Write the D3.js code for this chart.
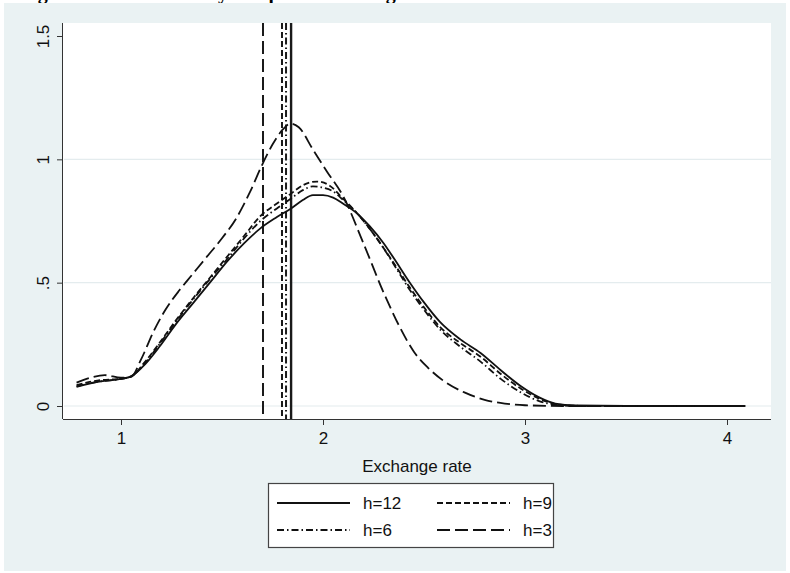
<!DOCTYPE html>
<html><head><meta charset="utf-8">
<script src="https://cdn.jsdelivr.net/npm/d3@7"></script>
<style>body{margin:0;background:#fff}svg{display:block}</style>
</head><body>
<svg id="c" width="790" height="573"></svg>
<script>
const seriesNames = ["h=12", "h=9", "h=6", "h=3"];
const xTicks = [1, 2, 3, 4];
const yTicks = [0, 0.5, 1, 1.5];
const yTickLabels = ["0", ".5", "1", "1.5"];
const meanLines = [1.842, 1.797, 1.817, 1.703]; // h=12, h=9, h=6, h=3

const h12 = [[0.78,0.078],[0.9,0.10],[1.0,0.11],[1.05,0.12],[1.12,0.17],[1.19,0.24],[1.27,0.33],[1.36,0.42],[1.44,0.50],[1.53,0.59],[1.61,0.66],[1.69,0.72],[1.77,0.765],[1.84,0.80],[1.9,0.835],[1.95,0.855],[2.0,0.855],[2.05,0.845],[2.1,0.82],[2.17,0.78],[2.23,0.73],[2.3,0.66],[2.35,0.60],[2.43,0.50],[2.5,0.42],[2.58,0.34],[2.68,0.27],[2.78,0.215],[2.88,0.145],[2.98,0.08],[3.07,0.035],[3.15,0.01],[3.25,0.002],[3.5,0],[4.09,0]];
const h9 = [[0.78,0.085],[0.9,0.105],[1.0,0.11],[1.05,0.12],[1.12,0.18],[1.19,0.255],[1.27,0.345],[1.36,0.44],[1.44,0.52],[1.53,0.61],[1.61,0.69],[1.69,0.77],[1.77,0.82],[1.84,0.86],[1.9,0.895],[1.97,0.91],[2.03,0.895],[2.1,0.84],[2.17,0.78],[2.23,0.72],[2.3,0.64],[2.35,0.58],[2.43,0.48],[2.5,0.40],[2.58,0.32],[2.68,0.255],[2.78,0.20],[2.88,0.13],[2.98,0.07],[3.07,0.03],[3.15,0.008],[3.25,0.001],[3.5,0],[4.09,0]];
const h6 = [[0.78,0.08],[0.9,0.10],[1.0,0.11],[1.05,0.12],[1.12,0.175],[1.19,0.25],[1.27,0.34],[1.36,0.435],[1.44,0.515],[1.53,0.60],[1.61,0.68],[1.69,0.75],[1.77,0.80],[1.84,0.84],[1.9,0.875],[1.95,0.89],[2.0,0.885],[2.05,0.87],[2.1,0.835],[2.17,0.78],[2.23,0.72],[2.3,0.64],[2.35,0.575],[2.43,0.47],[2.5,0.39],[2.58,0.31],[2.68,0.24],[2.78,0.18],[2.88,0.11],[2.98,0.055],[3.07,0.02],[3.15,0.005],[3.25,0],[3.5,0],[4.09,0]];
const h3 = [[0.78,0.095],[0.85,0.115],[0.92,0.125],[1.0,0.115],[1.05,0.118],[1.1,0.19],[1.16,0.30],[1.22,0.39],[1.29,0.47],[1.35,0.53],[1.42,0.60],[1.5,0.68],[1.57,0.76],[1.64,0.87],[1.70,0.98],[1.75,1.06],[1.80,1.12],[1.84,1.145],[1.88,1.13],[1.95,1.04],[2.02,0.95],[2.1,0.85],[2.2,0.66],[2.3,0.46],[2.38,0.32],[2.45,0.22],[2.52,0.155],[2.6,0.10],[2.7,0.055],[2.8,0.025],[2.9,0.01],[3.0,0.003],[3.2,0],[4.09,0]];

const seriesData = [h12, h9, h6, h3];
const dashes = [null, "6,3", "7,3,1.5,3", "13,5"];

const svg = d3.select("#c");
// title (cut off at top in the original)
svg.append("text").attr("x", 20).attr("y", -1)
  .attr("font-family", "Liberation Serif, Times New Roman, serif").attr("font-weight", "bold")
  .attr("font-size", 20).attr("fill", "#000")
  .text("Figure 5: Kernel density comparison among horizons");

svg.append("rect").attr("x", 4).attr("y", 3).attr("width", 782).attr("height", 568).attr("fill", "#eaf2f3");

const L = 63, R = 771, T = 23, B = 419;
svg.append("rect").attr("x", L).attr("y", T).attr("width", R - L).attr("height", B - T).attr("fill", "#fff");

const x = d3.scaleLinear().domain([1, 4]).range([121, 727]);
const y = d3.scaleLinear().domain([0, 1.5]).range([406, 36]);

// gridlines
svg.append("g").selectAll("line").data([0, 0.5, 1]).join("line")
  .attr("x1", L + 1).attr("x2", R).attr("y1", d => y(d)).attr("y2", d => y(d))
  .attr("stroke", "#e4ecee").attr("stroke-width", 1.2);

const g = svg.append("g");
g.append("clipPath").attr("id", "clip").append("rect").attr("x", L).attr("y", T).attr("width", R - L).attr("height", B - T);

// vertical mean lines
meanLines.forEach((m, i) => {
  g.append("line").attr("x1", x(m)).attr("x2", x(m)).attr("y1", T).attr("y2", B)
    .attr("stroke", "#1a1a1a").attr("stroke-width", i === 0 ? 2.4 : 2)
    .attr("stroke-dasharray", dashes[i]);
});

const line = d3.line().x(d => x(d[0])).y(d => y(d[1])).curve(d3.curveMonotoneX);
seriesData.forEach((s, i) => {
  g.append("path").datum(s).attr("d", line).attr("fill", "none")
    .attr("stroke", "#111").attr("stroke-width", 1.8)
    .attr("stroke-dasharray", dashes[i]).attr("clip-path", "url(#clip)");
});

// axes
const font = "Liberation Sans, Arial, sans-serif";
const xAxis = svg.append("g").attr("transform", `translate(0,${B})`)
  .call(d3.axisBottom(x).tickValues(xTicks).tickSize(6).tickPadding(7).tickFormat(d3.format("d")));
xAxis.select(".domain").attr("d", `M${L},0.5H${R}`).attr("stroke", "#333");
xAxis.selectAll(".tick line").attr("stroke", "#333");
xAxis.selectAll("text").attr("font-family", font).attr("font-size", 17).attr("fill", "#111");

const yAxis = svg.append("g").attr("transform", `translate(${L},0)`)
  .call(d3.axisLeft(y).tickValues(yTicks).tickSize(6).tickFormat((d, i) => yTickLabels[i]));
yAxis.select(".domain").attr("d", `M-0.5,${T}V${B}`).attr("stroke", "#333");
yAxis.selectAll(".tick line").attr("stroke", "#333");
yAxis.selectAll("text").attr("font-family", font).attr("font-size", 17).attr("fill", "#111")
  .attr("x", 0).attr("dy", 0).attr("text-anchor", "middle")
  .attr("transform", "translate(-14,0) rotate(-90)");

svg.append("text").attr("x", (L + R) / 2).attr("y", 472).attr("text-anchor", "middle")
  .attr("font-family", font).attr("font-size", 17).attr("fill", "#111").text("Exchange rate");

// legend
const lg = svg.append("g");
lg.append("rect").attr("x", 268.5).attr("y", 483.5).attr("width", 285).attr("height", 64)
  .attr("fill", "#fff").attr("stroke", "#444").attr("stroke-width", 1.2);
const pos = [[277, 503], [437, 503], [277, 530], [437, 530]];
seriesNames.forEach((n, i) => {
  const [px, py] = pos[i];
  lg.append("line").attr("x1", px).attr("x2", px + 73).attr("y1", py).attr("y2", py)
    .attr("stroke", "#111").attr("stroke-width", 1.8).attr("stroke-dasharray", dashes[i]);
  lg.append("text").attr("x", px + 86).attr("y", py + 6).attr("font-family", font)
    .attr("font-size", 17).attr("fill", "#111").text(n);
});
</script>
</body></html>
